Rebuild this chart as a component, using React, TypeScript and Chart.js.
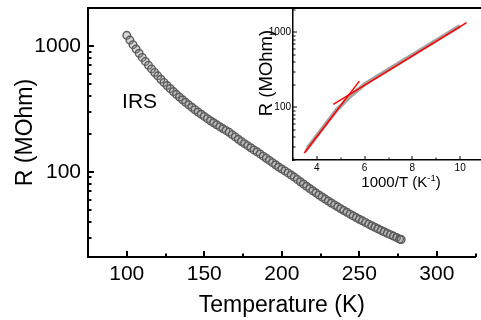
import React, { useEffect, useRef } from 'react';
import { Chart, registerables } from 'chart.js';

Chart.register(...registerables);

const FONT = '"Liberation Sans", Arial, Helvetica, sans-serif';

// Measured series: temperature (K) and resistance (MOhm)
const temperatureK = [
  100, 102, 104, 106, 108, 110, 112, 114, 116, 118, 120, 122, 124, 126, 128, 130, 132, 134, 136, 138,
  140, 142, 144, 146, 148, 150, 152, 154, 156, 158, 160, 162, 164, 166, 168, 170, 172, 174, 176, 178,
  180, 182, 184, 186, 188, 190, 192, 194, 196, 198, 200, 202, 204, 206, 208, 210, 212, 214, 216, 218,
  220, 222, 224, 226, 228, 230, 232, 234, 236, 238, 240, 242, 244, 246, 248, 250, 252, 254, 256, 258,
  260, 262, 264, 266, 268, 270, 272, 274, 276, 277,
];
const resistanceMOhm = [
  1213, 1112, 1023, 944, 873, 810, 753, 702, 656, 615, 578, 543, 512, 484, 458, 434, 412, 392, 373, 356,
  340, 325, 311, 298, 286, 275, 264, 254, 245, 236, 228, 220, 213, 206, 197, 189, 181, 174, 167, 161,
  155, 149, 144, 138.5, 133, 128, 123, 118, 113.5, 109, 105, 101.5, 97.8, 94.2, 90.6, 86.9, 83.2, 79.8, 76.6, 73.5,
  70.6, 67.9, 65.3, 62.9, 60.6, 58.5, 56.4, 54.5, 52.6, 50.8, 49.2, 47.6, 46.0, 44.6, 43.2, 41.9, 40.7, 39.5, 38.3, 37.2,
  36.2, 35.2, 34.2, 33.3, 32.4, 31.6, 30.8, 30.0, 29.2, 28.9,
];

// Linear fits shown in the inset (1000/T, R)
const fitHighTX = [3.47, 5.78];
const fitHighTR = [24.8, 224];
const fitLowTX = [4.69, 10.27];
const fitLowTR = [110, 1343];

// Tick values
const mainXMajorTicks = [100, 150, 200, 250, 300];
const mainXMinorTicks = [75, 125, 175, 225, 275, 325];
const mainYMajorTicks = [100, 1000];
const mainYMinorTicks = [30, 40, 50, 60, 70, 80, 90, 200, 300, 400, 500, 600, 700, 800, 900];

const insetXMajorTicks = [4, 6, 8, 10];
const insetXMinorTicks = [3, 5, 7, 9, 11];
const insetYMajorTicks = [100, 1000];
const insetYMinorTicks = [20, 30, 40, 50, 60, 70, 80, 90, 200, 300, 400, 500, 600, 700, 800, 900, 2000];

// Annotation
const sampleLabel = 'IRS';
const sampleLabelT = 97;
const sampleLabelR = 355;

const framePlugin = {
  id: 'frame',
  afterDraw(chart: any, _args: any, opts: any) {
    const { ctx, chartArea } = chart;
    const xs = chart.scales.x;
    const ys = chart.scales.y;
    ctx.save();
    ctx.strokeStyle = '#000';
    ctx.lineWidth = opts.tickWidth;
    const drawX = (vals: number[], len: number) => {
      vals.forEach((v) => {
        const p = Math.round(xs.getPixelForValue(v));
        ctx.beginPath();
        ctx.moveTo(p, chartArea.bottom);
        ctx.lineTo(p, chartArea.bottom - len);
        ctx.stroke();
      });
    };
    const drawY = (vals: number[], len: number) => {
      vals.forEach((v) => {
        const p = Math.round(ys.getPixelForValue(v));
        if (p < chartArea.top || p > chartArea.bottom) return;
        ctx.beginPath();
        ctx.moveTo(chartArea.left, p);
        ctx.lineTo(chartArea.left + len, p);
        ctx.stroke();
      });
    };
    drawX(opts.xMajor, opts.majorLen);
    drawX(opts.xMinor, opts.minorLen);
    drawY(opts.yMajor, opts.majorLen);
    drawY(opts.yMinor, opts.minorLen);
    if (opts.topLine) {
      ctx.lineWidth = 2;
      ctx.beginPath();
      ctx.moveTo(chartArea.left - 1, chartArea.top);
      ctx.lineTo(chart.width, chartArea.top);
      ctx.stroke();
    }
    ctx.fillStyle = '#000';
    if (opts.label) {
      ctx.font = `21px ${FONT}`;
      ctx.textAlign = 'left';
      ctx.textBaseline = 'middle';
      ctx.fillText(opts.label.text, xs.getPixelForValue(opts.label.x), ys.getPixelForValue(opts.label.y));
    }
    if (opts.insetTitles) {
      const t = opts.insetTitles;
      ctx.save();
      ctx.translate(chartArea.left + t.yDx, t.yCy);
      ctx.rotate(-Math.PI / 2);
      ctx.font = `${t.ySize}px ${FONT}`;
      ctx.textAlign = 'center';
      ctx.textBaseline = 'middle';
      ctx.fillText(t.yText, 0, 0);
      ctx.restore();
      const baseFont = `${t.xSize}px ${FONT}`;
      const supFont = `${t.supSize}px ${FONT}`;
      ctx.font = baseFont;
      const w1 = ctx.measureText(t.xText).width;
      const w3 = ctx.measureText(t.xEnd).width;
      ctx.font = supFont;
      const w2 = ctx.measureText(t.xSup).width;
      const total = w1 + w2 + w3;
      let x0 = chartArea.left + t.xDx - total / 2;
      ctx.textAlign = 'left';
      ctx.textBaseline = 'alphabetic';
      ctx.font = baseFont;
      ctx.fillText(t.xText, x0, t.xBase);
      x0 += w1;
      ctx.font = supFont;
      ctx.fillText(t.xSup, x0, t.xBase - t.supRaise);
      x0 += w2;
      ctx.font = baseFont;
      ctx.fillText(t.xEnd, x0, t.xBase);
    }
    ctx.restore();
  },
};

const zeroPad = (s: any) => {
  s.paddingLeft = 0;
  s.paddingRight = 0;
  s.paddingTop = 0;
  s.paddingBottom = 0;
};

export default function App() {
  const mainRef = useRef<HTMLCanvasElement | null>(null);
  const insetRef = useRef<HTMLCanvasElement | null>(null);

  useEffect(() => {
    const mainPoints = temperatureK.map((t, i) => ({ x: t, y: resistanceMOhm[i] }));
    const mainChart = new Chart(mainRef.current as HTMLCanvasElement, {
      type: 'scatter',
      data: {
        datasets: [
          {
            data: mainPoints,
            pointRadius: 3.8,
            pointBorderWidth: 1.4,
            pointBorderColor: '#5a5a5a',
            pointBackgroundColor: 'rgba(140,140,140,0.35)',
            showLine: false,
          } as any,
        ],
      },
      options: {
        responsive: false,
        animation: false,
        devicePixelRatio: 1,
        layout: { padding: { top: 8, right: 4, left: 0, bottom: 0 } },
        plugins: {
          legend: { display: false },
          tooltip: { enabled: false },
          frame: {
            tickWidth: 2,
            majorLen: 6,
            minorLen: 3.5,
            xMajor: mainXMajorTicks,
            xMinor: mainXMinorTicks,
            yMajor: mainYMajorTicks,
            yMinor: mainYMinorTicks,
            topLine: true,
            label: { text: sampleLabel, x: sampleLabelT, y: sampleLabelR },
          },
        } as any,
        scales: {
          x: {
            type: 'linear',
            position: 'bottom',
            min: 75,
            max: 325,
            grid: { display: false, drawTicks: false },
            border: { display: true, width: 2, color: '#000' },
            ticks: {
              color: '#000',
              font: { family: FONT, size: 21 },
              padding: 5,
              maxRotation: 0,
              autoSkip: false,
              callback: (v: any) => String(v),
            },
            afterBuildTicks: (s: any) => {
              s.ticks = mainXMajorTicks.map((v) => ({ value: v }));
            },
            afterFit: (s: any) => {
              s.height = 63;
              zeroPad(s);
            },
            title: {
              display: true,
              text: 'Temperature (K)',
              color: '#000',
              font: { family: FONT, size: 23 },
              padding: { top: 0, bottom: 1 },
            },
          },
          y: {
            type: 'logarithmic',
            position: 'left',
            min: 21,
            max: 2000,
            grid: { display: false, drawTicks: false },
            border: { display: true, width: 2, color: '#000' },
            ticks: {
              color: '#000',
              font: { family: FONT, size: 21 },
              padding: 7,
              autoSkip: false,
              callback: (v: any) => String(v),
            },
            afterBuildTicks: (s: any) => {
              s.ticks = mainYMajorTicks.map((v) => ({ value: v }));
            },
            afterFit: (s: any) => {
              s.width = 88;
              zeroPad(s);
            },
            title: {
              display: true,
              text: 'R (MOhm)',
              color: '#000',
              font: { family: FONT, size: 23 },
              padding: { top: 12, bottom: 0 },
            },
          },
        } as any,
      },
      plugins: [framePlugin],
    });

    const insetGray = temperatureK.map((t, i) => ({ x: 1000 / t, y: resistanceMOhm[i] }));
    const fitHigh = fitHighTX.map((x, i) => ({ x, y: fitHighTR[i] }));
    const fitLow = fitLowTX.map((x, i) => ({ x, y: fitLowTR[i] }));

    const insetChart = new Chart(insetRef.current as HTMLCanvasElement, {
      type: 'scatter',
      data: {
        datasets: [
          { data: fitLow, showLine: true, borderColor: '#ff0000', borderWidth: 1.5, pointRadius: 0 } as any,
          { data: fitHigh, showLine: true, borderColor: '#ff0000', borderWidth: 1.5, pointRadius: 0 } as any,
          { data: insetGray, showLine: true, borderColor: '#a3a3a3', borderWidth: 4, pointRadius: 0 } as any,
        ],
      },
      options: {
        responsive: false,
        animation: false,
        devicePixelRatio: 1,
        layout: { padding: { top: 8, right: 6, left: 0, bottom: 0 } },
        plugins: {
          legend: { display: false },
          tooltip: { enabled: false },
          frame: {
            tickWidth: 1,
            majorLen: 4,
            minorLen: 2.5,
            xMajor: insetXMajorTicks,
            xMinor: insetXMinorTicks,
            yMajor: insetYMajorTicks,
            yMinor: insetYMinorTicks,
            topLine: false,
            insetTitles: {
              yText: 'R (MOhm)',
              ySize: 18.5,
              yDx: -26,
              yCy: 73,
              xText: '1000/T (K',
              xSup: '-1',
              xEnd: ')',
              xSize: 15,
              supSize: 9.5,
              supRaise: 5.5,
              xDx: 108,
              xBase: 186.5,
            },
          },
        } as any,
        scales: {
          x: {
            type: 'linear',
            position: 'bottom',
            min: 3,
            max: 11,
            grid: { display: false, drawTicks: false },
            border: { display: true, width: 1.5, color: '#000' },
            ticks: {
              color: '#000',
              font: { family: FONT, size: 10 },
              padding: 2.5,
              maxRotation: 0,
              autoSkip: false,
              callback: (v: any) => String(v),
            },
            afterBuildTicks: (s: any) => {
              s.ticks = insetXMajorTicks.map((v) => ({ value: v }));
            },
            afterFit: (s: any) => {
              s.height = 40;
              zeroPad(s);
            },
          },
          y: {
            type: 'logarithmic',
            position: 'left',
            min: 20,
            max: 2100,
            grid: { display: false, drawTicks: false },
            border: { display: true, width: 1.5, color: '#000' },
            ticks: {
              color: '#000',
              font: { family: FONT, size: 10 },
              padding: 2,
              autoSkip: false,
              callback: (v: any) => String(v),
            },
            afterBuildTicks: (s: any) => {
              s.ticks = insetYMajorTicks.map((v) => ({ value: v }));
            },
            afterFit: (s: any) => {
              s.width = 38;
              zeroPad(s);
            },
          },
        } as any,
      },
      plugins: [framePlugin],
    });

    return () => {
      mainChart.destroy();
      insetChart.destroy();
    };
  }, []);

  return (
    <div
      style={{
        position: 'fixed',
        left: 0,
        top: 0,
        width: 481,
        height: 320,
        overflow: 'hidden',
        background: '#fff',
      }}
    >
      <canvas ref={mainRef} width={481} height={320} style={{ position: 'absolute', left: 0, top: 0 }} />
      <canvas ref={insetRef} width={235} height={200} style={{ position: 'absolute', left: 255, top: 0 }} />
    </div>
  );
}
